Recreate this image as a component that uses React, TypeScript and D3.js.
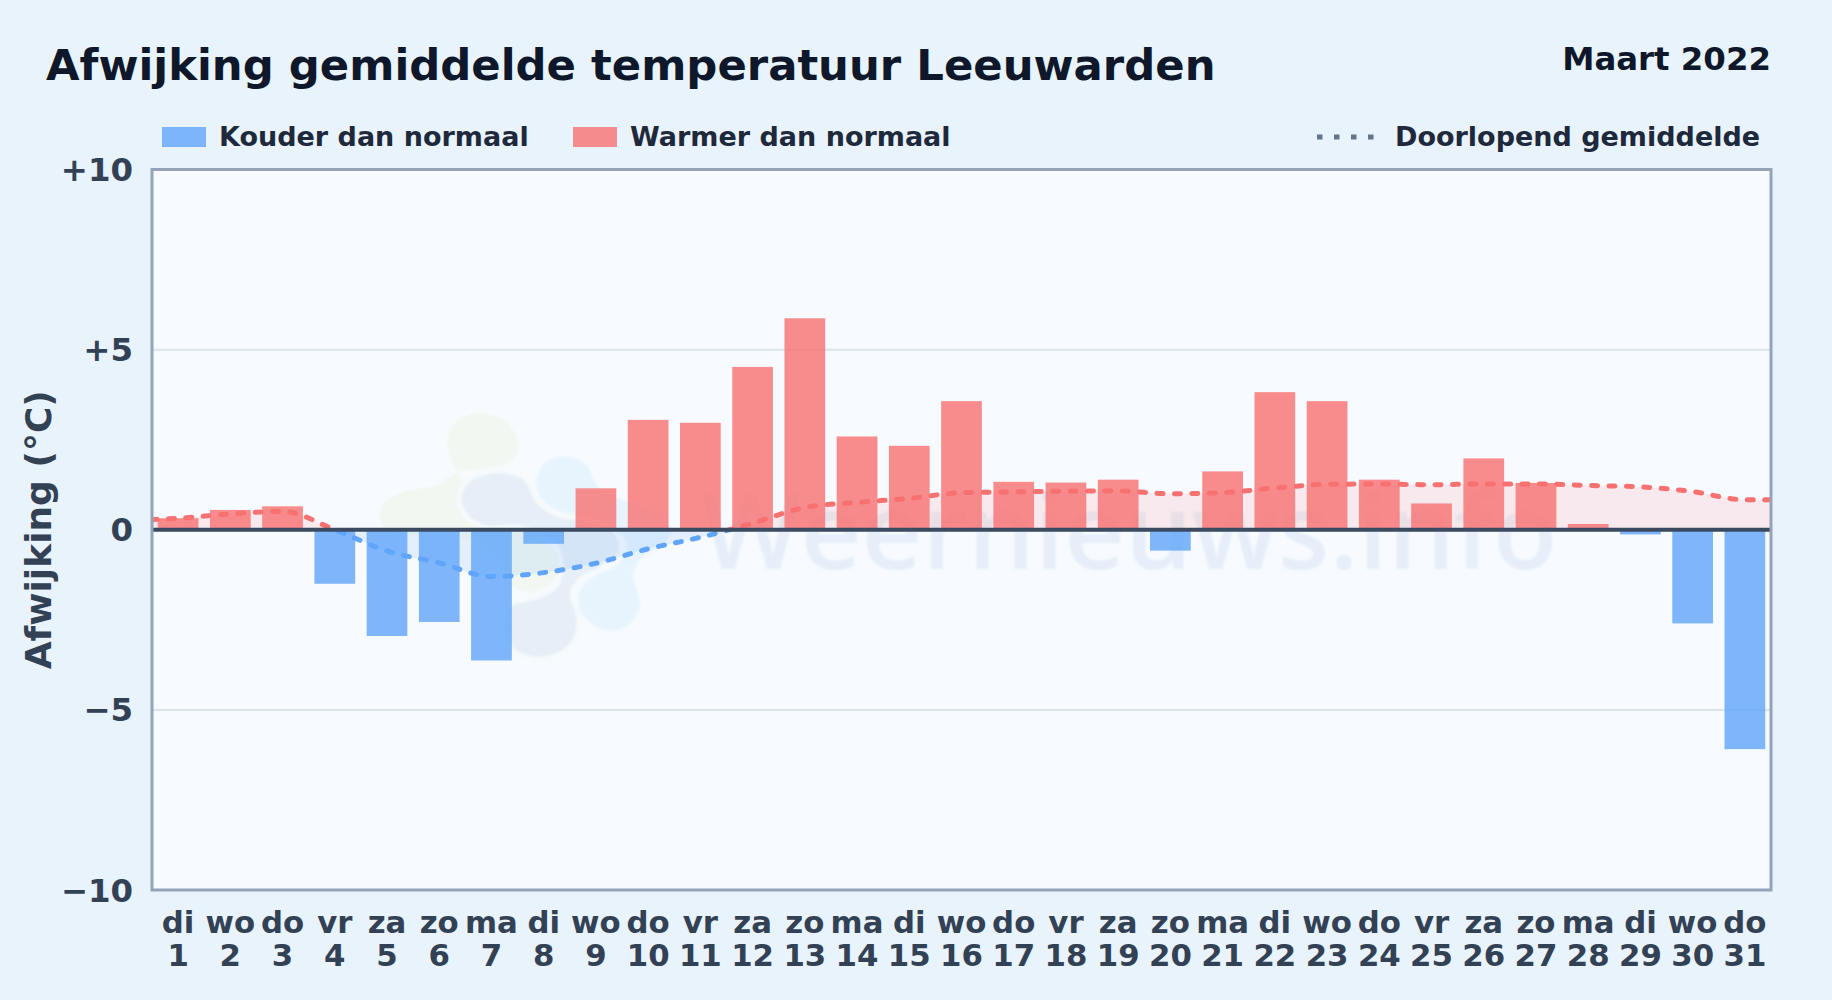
import React from "react";
import * as d3 from "d3";

const weekdays = ["di","wo","do","vr","za","zo","ma","di","wo","do","vr","za","zo","ma","di","wo","do","vr","za","zo","ma","di","wo","do","vr","za","zo","ma","di","wo","do"];
const days = d3.range(1, 32).map(String);
const deviation = [0.32,0.55,0.65,-1.5,-2.95,-2.56,-3.63,-0.39,1.15,3.05,2.97,4.52,5.87,2.59,2.33,3.57,1.33,1.31,1.39,-0.58,1.62,3.82,3.57,1.39,0.73,1.98,1.3,0.16,-0.13,-2.6,-6.09];
const runningMean = [0.32,0.44,0.51,0.0,-0.59,-0.92,-1.3,-1.19,-0.93,-0.53,-0.21,0.18,0.62,0.76,0.87,1.03,1.05,1.07,1.08,1.0,1.03,1.16,1.26,1.27,1.25,1.27,1.27,1.23,1.19,1.06,0.83];
const yTicks = [10, 5, 0, -5, -10];
const yTickLabels = ["+10", "+5", "0", "−5", "−10"];

// watermark logo outlines, in 3x crop units around (360,390)
const logoGreen: [number, number][] = [[265,130],[300,85],[370,68],[440,95],[475,165],[455,215],[370,235],[285,250],[230,285],[130,305],[70,340],[60,385],[85,425],[180,435],[300,440],[400,500],[460,590],[520,605],[590,560],[600,480],[520,430],[440,380],[330,300],[270,200]];
const logoSky: [number, number][] = [[530,265],[560,215],[620,200],[680,225],[715,290],[790,330],[900,370],[935,420],[900,470],[850,500],[820,550],[840,650],[790,715],[720,715],[665,670],[655,610],[700,560],[770,525],[800,470],[770,420],[680,385],[590,360],[540,320]];
const logoSlate: [number, number][] = [[305,325],[330,275],[420,250],[490,270],[530,340],[590,380],[680,395],[760,430],[775,480],[720,530],[660,560],[630,610],[650,690],[630,760],[550,800],[470,780],[430,720],[455,650],[540,625],[595,590],[610,510],[580,450],[480,405],[380,405],[325,375]];

const W = 1832, H = 1000;
const M = { l: 152, r: 1771, t: 169.5, b: 890 };
const font = "'DejaVu Sans', sans-serif";

export default function App() {
  const x = d3.scaleBand<number>().domain(d3.range(31)).range([M.l, M.r]).paddingInner(0.22).paddingOuter(0.11);
  const y = d3.scaleLinear().domain([-10, 10]).range([M.b, M.t]);
  const cx = (i: number) => x(i)! + x.bandwidth() / 2;
  const pts: [number, number][] = [
    [M.l - 1, y(runningMean[0] - 0.04)],
    ...runningMean.map((v, i) => [cx(i), y(v)] as [number, number]),
    [M.r + 1, y(runningMean[30])],
  ];
  const line = d3.line().curve(d3.curveMonotoneX)(pts)!;
  const area = d3.area().curve(d3.curveMonotoneX).y0(y(0))(pts)!;
  const z = y(0);
  const blob = d3.line<[number, number]>().x(p => 360 + p[0] / 3).y(p => 390 + p[1] / 3).curve(d3.curveCatmullRomClosed.alpha(0.5));
  return (
    <svg width={W} height={H} viewBox={`0 0 ${W} ${H}`} style={{ position: "fixed", left: 0, top: 0, display: "block" }}>
      <defs>
        <clipPath id="plot"><rect x={M.l} y={M.t} width={M.r - M.l} height={M.b - M.t} /></clipPath>
        <clipPath id="above"><rect x={M.l} y={M.t} width={M.r - M.l} height={z - M.t} /></clipPath>
        <clipPath id="below"><rect x={M.l} y={z} width={M.r - M.l} height={M.b - z} /></clipPath>
        <filter id="soft" x="-10%" y="-10%" width="120%" height="120%"><feGaussianBlur stdDeviation="1.2" /></filter>
      </defs>
      <rect width={W} height={H} fill="#e8f3fc" />
      <rect x={M.l} y={M.t} width={M.r - M.l} height={M.b - M.t} fill="#f7fbff" />
      <g clipPath="url(#plot)">
        <g filter="url(#soft)">
          <path d={blob(logoGreen)!} fill="#f2f8f1" />
          <path d={blob(logoSky)!} fill="#e7f4fe" />
          <path d={blob(logoSlate)!} fill="#e6eff7" stroke="#f5fafd" strokeWidth={10} paintOrder="stroke" />
          <text x={701} y={569} fontFamily="'Open Sans', sans-serif" fontSize={105.5} fontWeight={600} fill="#8fb4d8" opacity={0.17}>Weernieuws.info</text>
        </g>
      </g>
      {yTicks.filter(t => Math.abs(t) === 5).map(t => (
        <line key={t} x1={M.l} x2={M.r} y1={y(t)} y2={y(t)} stroke="#dbe4ea" strokeWidth={2} />
      ))}
      <g clipPath="url(#plot)">
        <g clipPath="url(#above)"><path d={area} fill="#f87171" opacity={0.13} /></g>
        <g clipPath="url(#below)"><path d={area} fill="#60a5fa" opacity={0.13} /></g>
        {deviation.map((v, i) => (
          <rect key={i} x={x(i)!} width={x.bandwidth()} y={v >= 0 ? y(v) : z} height={Math.abs(y(v) - z)} fill={v >= 0 ? "#f87171" : "#60a5fa"} opacity={0.8} />
        ))}
        <g clipPath="url(#above)"><path d={line} fill="none" stroke="#f87171" strokeWidth={5} strokeDasharray="6 11.4" strokeLinecap="round" /></g>
        <g clipPath="url(#below)"><path d={line} fill="none" stroke="#60a5fa" strokeWidth={5} strokeDasharray="6 11.4" strokeLinecap="round" /></g>
      </g>
      <line x1={M.l} x2={M.r} y1={z} y2={z} stroke="#3a4a60" strokeWidth={4} />
      <rect x={M.l} y={M.t} width={M.r - M.l} height={M.b - M.t} fill="none" stroke="#94a3b8" strokeWidth={3} />
      <text x={46} y={80} fontFamily={font} fontWeight={700} fontSize={43.35} fill="#0f172a">Afwijking gemiddelde temperatuur Leeuwarden</text>
      <text x={1771} y={70} textAnchor="end" fontFamily={font} fontWeight={700} fontSize={32.4} fill="#0f172a">Maart 2022</text>
      <rect x={162} y={127} width={44} height={20} fill="#60a5fa" opacity={0.8} />
      <text x={219} y={146} fontFamily={font} fontWeight={700} fontSize={27} fill="#1e293b">Kouder dan normaal</text>
      <rect x={573} y={127} width={44} height={20} fill="#f87171" opacity={0.8} />
      <text x={630} y={146} fontFamily={font} fontWeight={700} fontSize={27} fill="#1e293b">Warmer dan normaal</text>
      <line x1={1317} x2={1375} y1={137} y2={137} stroke="#64748b" strokeWidth={5} strokeDasharray="5.5 11.5" />
      <text x={1395} y={146} fontFamily={font} fontWeight={700} fontSize={27} fill="#1e293b">Doorlopend gemiddelde</text>
      {yTicks.map((t, i) => (
        <text key={t} x={133} y={y(t) + 11.5} textAnchor="end" fontFamily={font} fontWeight={700} fontSize={32.4} fill="#334155">{yTickLabels[i]}</text>
      ))}
      <text transform={`translate(50.5,${(M.t + M.b) / 2}) rotate(-90)`} textAnchor="middle" fontFamily={font} fontWeight={700} fontSize={36} fill="#334155">Afwijking (°C)</text>
      {days.map((d, i) => (
        <g key={d} fontFamily={font} fontWeight={700} fontSize={30.8} fill="#334155" textAnchor="middle">
          <text x={cx(i)} y={932.5}>{weekdays[i]}</text>
          <text x={cx(i)} y={965.5}>{d}</text>
        </g>
      ))}
    </svg>
  );
}
